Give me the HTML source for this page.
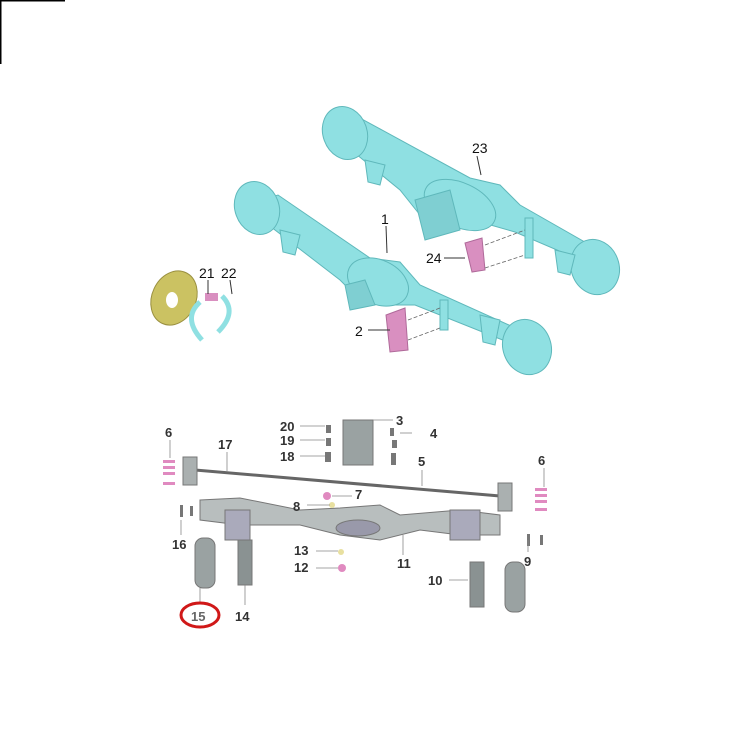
<!DOCTYPE html>
<html><head><meta charset="utf-8"><style>
html,body{margin:0;padding:0;background:#fff;width:752px;height:746px;overflow:hidden}
svg{display:block}
text{font-family:"Liberation Sans",sans-serif}
</style></head><body>
<svg width="752" height="746" viewBox="0 0 752 746">
<rect x="0" y="0" width="65" height="1.5" fill="#000"/>
<rect x="0" y="0" width="1.5" height="64" fill="#000"/>

<!-- rear axle 23 -->
<g fill="#8fe0e2" stroke="#5fb8bb" stroke-width="1">
<polygon points="345,125 360,118 470,178 500,185 520,205 590,245 585,262 515,232 480,222 455,228 420,215 400,190 345,145"/>
<ellipse cx="345" cy="133" rx="22" ry="27" transform="rotate(-20 345 133)"/>
<ellipse cx="460" cy="205" rx="38" ry="22" transform="rotate(25 460 205)"/>
<polygon points="415,200 450,190 460,230 425,240" fill="#7fcfd2"/>
<ellipse cx="595" cy="267" rx="24" ry="28" transform="rotate(-20 595 267)"/>
<rect x="525" y="218" width="8" height="40" fill="#8fe0e2"/>
<polygon points="365,160 385,165 380,185 368,182"/>
<polygon points="555,250 575,255 570,275 558,272"/>
</g>
<!-- front axle 1 -->
<g fill="#8fe0e2" stroke="#5fb8bb" stroke-width="1">
<polygon points="262,200 278,195 370,258 400,262 420,285 520,330 515,345 415,305 390,305 360,300 340,280 262,220"/>
<ellipse cx="257" cy="208" rx="22" ry="27" transform="rotate(-20 257 208)"/>
<ellipse cx="378" cy="282" rx="32" ry="22" transform="rotate(25 378 282)"/>
<polygon points="345,285 365,280 375,305 350,310" fill="#7fcfd2"/>
<ellipse cx="527" cy="347" rx="24" ry="28" transform="rotate(-20 527 347)"/>
<rect x="440" y="300" width="8" height="30"/>
<polygon points="280,230 300,235 295,255 283,252"/>
<polygon points="480,315 500,320 495,345 483,342"/>
</g>
<!-- brackets -->
<polygon points="465,243 482,238 485,270 472,272" fill="#d98fc0" stroke="#b06a9a"/>
<polygon points="386,315 405,308 408,350 390,352" fill="#d98fc0" stroke="#b06a9a"/>
<g stroke="#666" stroke-dasharray="4,2" stroke-width="0.8">
<line x1="485" y1="245" x2="525" y2="230"/><line x1="485" y1="268" x2="525" y2="255"/>
<line x1="408" y1="320" x2="440" y2="308"/><line x1="408" y1="340" x2="440" y2="328"/>
</g>
<!-- backing plate & shoes -->
<ellipse cx="174" cy="298" rx="22" ry="28" transform="rotate(25 174 298)" fill="#cbc262" stroke="#9a9040"/>
<ellipse cx="172" cy="300" rx="6" ry="8" fill="#fff"/>
<path d="M200,302 Q182,318 202,340" stroke="#8fe0e2" stroke-width="5" fill="none"/>
<path d="M222,296 Q238,312 218,332" stroke="#8fe0e2" stroke-width="5" fill="none"/>
<rect x="205" y="293" width="13" height="8" fill="#d98fc0"/>
<g stroke="#333" stroke-width="1">
<line x1="477" y1="156" x2="481" y2="175"/>
<line x1="386" y1="226" x2="387" y2="253"/>
<line x1="444" y1="258" x2="465" y2="258"/>
<line x1="368" y1="330" x2="390" y2="330"/>
<line x1="208" y1="280" x2="208" y2="294"/>
<line x1="230" y1="280" x2="232" y2="294"/>
</g>
<g font-size="14" fill="#111">
<text x="472" y="153">23</text><text x="381" y="224">1</text>
<text x="426" y="263">24</text><text x="355" y="336">2</text>
<text x="199" y="278">21</text><text x="221" y="278">22</text>
</g>

<!-- lower exploded view -->
<line x1="195" y1="470" x2="500" y2="496" stroke="#666" stroke-width="3"/>
<g fill="#aab0b0" stroke="#777">
<rect x="183" y="457" width="14" height="28"/>
<rect x="498" y="483" width="14" height="28"/>
<polygon points="200,500 240,498 300,510 340,508 380,505 400,515 460,510 500,515 500,535 460,535 420,530 380,540 340,535 300,525 240,525 200,520" fill="#b8bebe"/>
<ellipse cx="358" cy="528" rx="22" ry="8" fill="#99a"/>
<rect x="343" y="420" width="30" height="45" fill="#9aa2a2"/>
<rect x="195" y="538" width="20" height="50" rx="8" fill="#9aa2a2"/>
<rect x="238" y="540" width="14" height="45" fill="#8a9292"/>
<rect x="470" y="562" width="14" height="45" fill="#8a9292"/>
<rect x="505" y="562" width="20" height="50" rx="8" fill="#9aa2a2"/>
<rect x="225" y="510" width="25" height="30" fill="#aab"/>
<rect x="450" y="510" width="30" height="30" fill="#aab"/>
</g>
<g fill="#777"><rect x="326" y="425" width="5" height="8"/><rect x="326" y="438" width="5" height="8"/><rect x="325" y="452" width="6" height="10"/>
<rect x="390" y="428" width="4" height="8"/><rect x="392" y="440" width="5" height="8"/><rect x="391" y="453" width="5" height="12"/>
<rect x="180" y="505" width="3" height="12"/><rect x="190" y="506" width="3" height="10"/><rect x="527" y="534" width="3" height="12"/><rect x="540" y="535" width="3" height="10"/></g>
<g fill="#e08ac0"><rect x="163" y="460" width="12" height="3"/><rect x="163" y="466" width="12" height="3"/><rect x="163" y="472" width="12" height="3"/><rect x="163" y="482" width="12" height="3"/>
<rect x="535" y="488" width="12" height="3"/><rect x="535" y="494" width="12" height="3"/><rect x="535" y="500" width="12" height="3"/><rect x="535" y="508" width="12" height="3"/>
<circle cx="327" cy="496" r="4"/><circle cx="342" cy="568" r="4"/></g>
<circle cx="332" cy="505" r="3" fill="#e8e0a0"/><circle cx="341" cy="552" r="3" fill="#e8e0a0"/>
<g stroke="#888" stroke-width="0.8">
<line x1="170" y1="440" x2="170" y2="458"/><line x1="544" y1="468" x2="544" y2="487"/>
<line x1="227" y1="452" x2="227" y2="472"/><line x1="300" y1="426" x2="325" y2="426"/>
<line x1="300" y1="440" x2="325" y2="440"/><line x1="300" y1="456" x2="325" y2="456"/>
<line x1="373" y1="420" x2="393" y2="420"/><line x1="400" y1="433" x2="412" y2="433"/>
<line x1="422" y1="470" x2="422" y2="486"/><line x1="332" y1="496" x2="352" y2="496"/>
<line x1="307" y1="505" x2="330" y2="505"/><line x1="181" y1="520" x2="181" y2="535"/>
<line x1="316" y1="551" x2="338" y2="551"/><line x1="316" y1="568" x2="338" y2="568"/>
<line x1="403" y1="535" x2="403" y2="555"/><line x1="528" y1="540" x2="528" y2="552"/>
<line x1="449" y1="580" x2="468" y2="580"/><line x1="200" y1="588" x2="200" y2="602"/><line x1="245" y1="585" x2="245" y2="605"/>
</g>
<g font-size="13" fill="#333" font-weight="bold">
<text x="165" y="437">6</text><text x="538" y="465">6</text><text x="218" y="449">17</text>
<text x="280" y="431">20</text><text x="280" y="445">19</text><text x="280" y="461">18</text>
<text x="396" y="425">3</text><text x="430" y="438">4</text><text x="418" y="466">5</text>
<text x="355" y="499">7</text><text x="293" y="511">8</text><text x="172" y="549">16</text>
<text x="294" y="555">13</text><text x="294" y="572">12</text><text x="397" y="568">11</text>
<text x="524" y="566">9</text><text x="428" y="585">10</text>
<text x="191" y="621" fill="#666">15</text><text x="235" y="621">14</text>
</g>
<ellipse cx="200" cy="615" rx="19" ry="12" fill="none" stroke="#d01818" stroke-width="3"/>
</svg>
</body></html>
